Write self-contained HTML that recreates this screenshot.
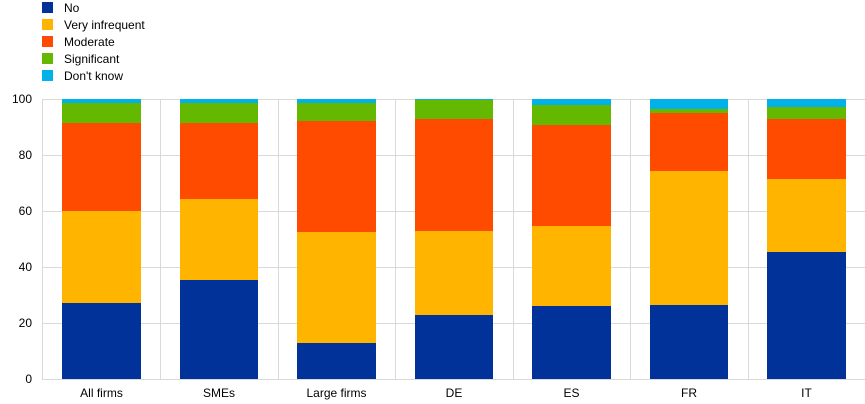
<!DOCTYPE html>
<html><head><meta charset="utf-8"><style>
body{margin:0;background:#fff;}
svg{display:block;font-family:"Liberation Sans",Arial,sans-serif;}
</style></head><body>
<svg width="865" height="404" viewBox="0 0 865 404" xmlns="http://www.w3.org/2000/svg">
<g stroke="#d9d9d9" stroke-width="1">
<line x1="42" y1="99.5" x2="865" y2="99.5"/>
<line x1="42" y1="155.5" x2="865" y2="155.5"/>
<line x1="42" y1="211.5" x2="865" y2="211.5"/>
<line x1="42" y1="267.5" x2="865" y2="267.5"/>
<line x1="42" y1="323.5" x2="865" y2="323.5"/>
<line x1="42" y1="379.5" x2="865" y2="379.5"/>
<line x1="42.5" y1="99" x2="42.5" y2="380"/>
<line x1="160.5" y1="99" x2="160.5" y2="380"/>
<line x1="278.5" y1="99" x2="278.5" y2="380"/>
<line x1="395.5" y1="99" x2="395.5" y2="380"/>
<line x1="513.5" y1="99" x2="513.5" y2="380"/>
<line x1="630.5" y1="99" x2="630.5" y2="380"/>
<line x1="748.5" y1="99" x2="748.5" y2="380"/>
</g>
<g>
<!-- All firms -->
<rect x="62" y="99" width="79" height="4" fill="#00b1ea"/>
<rect x="62" y="103" width="79" height="20" fill="#65b800"/>
<rect x="62" y="123" width="79" height="88" fill="#ff4b00"/>
<rect x="62" y="211" width="79" height="92" fill="#ffb400"/>
<rect x="62" y="303" width="79" height="76" fill="#003299"/>
<!-- SMEs -->
<rect x="180" y="99" width="78" height="4" fill="#00b1ea"/>
<rect x="180" y="103" width="78" height="20" fill="#65b800"/>
<rect x="180" y="123" width="78" height="76" fill="#ff4b00"/>
<rect x="180" y="199" width="78" height="81" fill="#ffb400"/>
<rect x="180" y="280" width="78" height="99" fill="#003299"/>
<!-- Large -->
<rect x="297" y="99" width="79" height="4" fill="#00b1ea"/>
<rect x="297" y="103" width="79" height="18" fill="#65b800"/>
<rect x="297" y="121" width="79" height="111" fill="#ff4b00"/>
<rect x="297" y="232" width="79" height="111" fill="#ffb400"/>
<rect x="297" y="343" width="79" height="36" fill="#003299"/>
<!-- DE -->
<rect x="415" y="99" width="78" height="1" fill="#00b1ea"/>
<rect x="415" y="100" width="78" height="19" fill="#65b800"/>
<rect x="415" y="119" width="78" height="112" fill="#ff4b00"/>
<rect x="415" y="231" width="78" height="84" fill="#ffb400"/>
<rect x="415" y="315" width="78" height="64" fill="#003299"/>
<!-- ES -->
<rect x="532" y="99" width="79" height="6" fill="#00b1ea"/>
<rect x="532" y="105" width="79" height="20" fill="#65b800"/>
<rect x="532" y="125" width="79" height="101" fill="#ff4b00"/>
<rect x="532" y="226" width="79" height="80" fill="#ffb400"/>
<rect x="532" y="306" width="79" height="73" fill="#003299"/>
<!-- FR -->
<rect x="650" y="99" width="78" height="10" fill="#00b1ea"/>
<rect x="650" y="109" width="78" height="4" fill="#65b800"/>
<rect x="650" y="113" width="78" height="58" fill="#ff4b00"/>
<rect x="650" y="171" width="78" height="134" fill="#ffb400"/>
<rect x="650" y="305" width="78" height="74" fill="#003299"/>
<!-- IT -->
<rect x="767" y="99" width="79" height="8" fill="#00b1ea"/>
<rect x="767" y="107" width="79" height="12" fill="#65b800"/>
<rect x="767" y="119" width="79" height="60" fill="#ff4b00"/>
<rect x="767" y="179" width="79" height="73" fill="#ffb400"/>
<rect x="767" y="252" width="79" height="127" fill="#003299"/>
</g>
<g font-size="12" fill="#000" text-anchor="end">
<text x="32" y="103">100</text>
<text x="32" y="159">80</text>
<text x="32" y="215">60</text>
<text x="32" y="271">40</text>
<text x="32" y="327">20</text>
<text x="32" y="383">0</text>
</g>
<g font-size="12" fill="#000" text-anchor="middle">
<text x="101.5" y="397">All firms</text>
<text x="219" y="397">SMEs</text>
<text x="336.5" y="397">Large firms</text>
<text x="454" y="397">DE</text>
<text x="571.5" y="397">ES</text>
<text x="689" y="397">FR</text>
<text x="806.5" y="397">IT</text>
</g>
<g font-size="12" fill="#000">
<rect x="42" y="2" width="11" height="11" fill="#003299"/><text x="64" y="12">No</text>
<rect x="42" y="19" width="11" height="11" fill="#ffb400"/><text x="64" y="29">Very infrequent</text>
<rect x="42" y="36" width="11" height="11" fill="#ff4b00"/><text x="64" y="46">Moderate</text>
<rect x="42" y="53" width="11" height="11" fill="#65b800"/><text x="64" y="63">Significant</text>
<rect x="42" y="70" width="11" height="11" fill="#00b1ea"/><text x="64" y="80">Don't know</text>
</g>
</svg>
</body></html>
